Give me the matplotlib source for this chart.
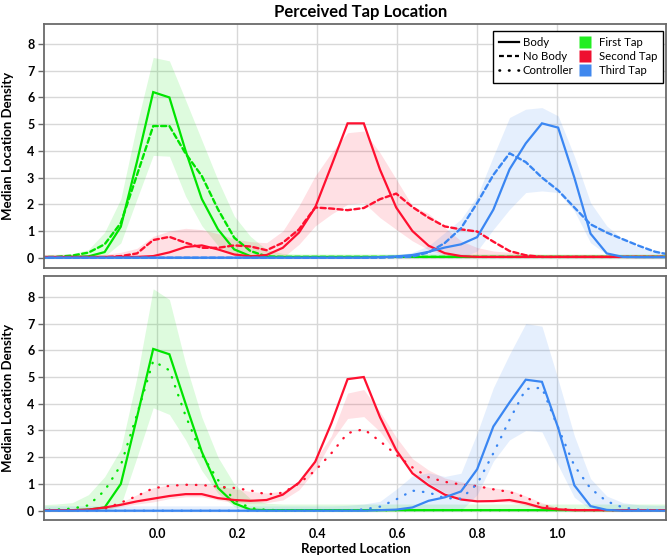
import numpy
import matplotlib
matplotlib.use("Agg")
from matplotlib import pyplot
from matplotlib.lines import Line2D

pyplot.rcParams['font.family'] = ['Lato', 'DejaVu Sans']

# -----------------------------------------------------------------------------
# bin centres (reported location), 40 bins
loc = numpy.round(-0.01 + 0.0405 * numpy.arange(-7, 33), 4)

# top panel: Body (solid) / No Body (dashed)
green_body_top = [0.02, 0.02, 0.03, 0.05, 0.21, 1.16, 3.6, 6.2, 6.0, 4.0, 2.2, 1.06, 0.31, 0.06,
                  0.03, 0.03, 0.03, 0.03, 0.03, 0.03, 0.03, 0.03, 0.03, 0.03, 0.03, 0.03, 0.03,
                  0.03, 0.03, 0.03, 0.03, 0.03, 0.03, 0.03, 0.03, 0.03, 0.03, 0.03, 0.03, 0.03]
green_nobody_top = [0.02, 0.03, 0.08, 0.19, 0.5, 1.3, 3.1, 4.93, 4.93, 3.9, 3.06, 1.81, 0.75, 0.25,
                    0.05, 0.03, 0.03, 0.03, 0.03, 0.03, 0.03, 0.03, 0.03, 0.03, 0.03, 0.03, 0.03,
                    0.03, 0.03, 0.03, 0.03, 0.03, 0.03, 0.03, 0.03, 0.03, 0.03, 0.03, 0.03, 0.03]
green_hi_top = [0.12, 0.13, 0.15, 0.3, 0.95, 2.2, 5.0, 7.5, 7.37, 5.9, 4.4, 2.9, 1.56, 0.8,
                0.3, 0.16, 0.14, 0.14, 0.14, 0.14, 0.14, 0.14, 0.14, 0.14, 0.14, 0.14, 0.14,
                0.14, 0.14, 0.14, 0.14, 0.14, 0.14, 0.14, 0.14, 0.14, 0.14, 0.14, 0.14, 0.14]
green_lo_top = [0, 0, 0, 0, 0.05, 0.55, 2.2, 3.83, 3.8, 2.3, 1.2, 0.45, 0.1, 0,
                0, 0, 0, 0, 0, 0, 0, 0, 0, 0, 0, 0, 0,
                0, 0, 0, 0, 0, 0, 0, 0, 0, 0, 0, 0, 0]

red_body_top = [0.03, 0.03, 0.03, 0.03, 0.03, 0.03, 0.03, 0.06, 0.2, 0.4, 0.46, 0.31, 0.12, 0.05,
                0.1, 0.37, 0.94, 1.88, 3.44, 5.03, 5.03, 3.3, 1.88, 1.0, 0.45, 0.17, 0.06,
                0.03, 0.03, 0.03, 0.03, 0.03, 0.03, 0.03, 0.03, 0.03, 0.03, 0.03, 0.03, 0.03]
red_nobody_top = [0.02, 0.02, 0.02, 0.02, 0.02, 0.06, 0.16, 0.66, 0.78, 0.56, 0.37, 0.37, 0.46, 0.42,
                  0.28, 0.56, 1.06, 1.88, 1.84, 1.78, 1.86, 2.19, 2.4, 1.9, 1.5, 1.17, 1.06,
                  0.98, 0.6, 0.25, 0.09, 0.03, 0.03, 0.03, 0.03, 0.03, 0.03, 0.03, 0.03, 0.03]
red_hi_top = [0.05, 0.06, 0.08, 0.1, 0.12, 0.2, 0.35, 0.8, 1.0, 1.1, 1.05, 0.9, 0.7, 0.6,
              0.56, 1.0, 1.94, 3.06, 3.93, 4.68, 4.74, 3.93, 2.94, 1.94, 1.65, 1.13, 0.63,
              0.38, 0.25, 0.2, 0.15, 0.12, 0.12, 0.12, 0.12, 0.12, 0.12, 0.12, 0.12, 0.12]
red_lo_top = [0, 0, 0, 0, 0, 0, 0, 0, 0, 0, 0, 0, 0, 0,
              0, 0, 0.5, 1.19, 1.63, 2.0, 2.06, 1.5, 1.06, 0.63, 0.3, 0.1, 0,
              0, 0, 0, 0, 0, 0, 0, 0, 0, 0, 0, 0, 0]

blue_body_top = [0, 0, 0, 0, 0, 0, 0, 0, 0, 0, 0, 0, 0, 0,
                 0, 0, 0, 0, 0, 0, 0, 0.02, 0.05, 0.1, 0.22, 0.38, 0.5,
                 0.77, 1.8, 3.31, 4.28, 5.03, 4.87, 3.0, 0.9, 0.16, 0.03, 0.02, 0.02, 0.02]
blue_nobody_top = [0, 0, 0, 0, 0, 0, 0, 0, 0, 0, 0, 0, 0, 0,
                   0, 0, 0, 0, 0, 0, 0, 0, 0.02, 0.04, 0.2, 0.55, 1.1,
                   2.05, 3.1, 3.91, 3.58, 3.0, 2.52, 1.88, 1.25, 0.94, 0.69, 0.44, 0.22, 0.1]
blue_hi_top = [0.02, 0.02, 0.02, 0.02, 0.02, 0.02, 0.02, 0.02, 0.02, 0.02, 0.02, 0.02, 0.02, 0.02,
               0.02, 0.02, 0.02, 0.02, 0.02, 0.02, 0.02, 0.05, 0.08, 0.2, 0.44, 0.94, 1.44,
               2.3, 3.8, 5.25, 5.56, 5.62, 5.31, 3.8, 2.06, 1.19, 0.69, 0.38, 0.25, 0.2]
blue_lo_top = [0, 0, 0, 0, 0, 0, 0, 0, 0, 0, 0, 0, 0, 0,
               0, 0, 0, 0, 0, 0, 0, 0, 0, 0, 0, 0, 0,
               0.25, 1.06, 1.81, 2.44, 2.5, 2.44, 1.75, 0.56, 0.12, 0, 0, 0, 0]

# bottom panel: Body (solid) / Controller (dotted)
green_body_bot = [0.02, 0.02, 0.02, 0.04, 0.12, 1.0, 3.5, 6.05, 5.85, 4.0, 2.2, 0.85, 0.28, 0.04,
                  0.02, 0.02, 0.02, 0.02, 0.02, 0.02, 0.02, 0.02, 0.02, 0.02, 0.02, 0.02, 0.02,
                  0.02, 0.02, 0.02, 0.02, 0.02, 0.02, 0.02, 0.02, 0.02, 0.02, 0.02, 0.02, 0.02]
green_ctrl_bot = [0.02, 0.04, 0.08, 0.2, 0.75, 1.7, 3.6, 5.6, 5.25, 3.55, 2.1, 1.15, 0.4, 0.1,
                  0.03, 0.02, 0.02, 0.02, 0.02, 0.02, 0.02, 0.02, 0.02, 0.02, 0.02, 0.02, 0.02,
                  0.02, 0.02, 0.02, 0.02, 0.02, 0.02, 0.02, 0.02, 0.02, 0.02, 0.02, 0.02, 0.02]
green_hi_bot = [0.22, 0.25, 0.3, 0.6, 1.27, 2.3, 5.0, 8.3, 7.9, 5.5, 3.5, 2.0, 1.0, 0.45,
                0.28, 0.25, 0.25, 0.25, 0.25, 0.25, 0.25, 0.25, 0.25, 0.25, 0.25, 0.25, 0.25,
                0.25, 0.25, 0.25, 0.25, 0.25, 0.25, 0.25, 0.25, 0.25, 0.25, 0.25, 0.25, 0.25]
green_lo_bot = [0, 0, 0, 0, 0, 0.2, 2.0, 3.85, 3.6, 2.65, 1.5, 0.65, 0.15, 0,
                0, 0, 0, 0, 0, 0, 0, 0, 0, 0, 0, 0, 0,
                0, 0, 0, 0, 0, 0, 0, 0, 0, 0, 0, 0, 0]

red_body_bot = [0.02, 0.02, 0.02, 0.04, 0.12, 0.22, 0.35, 0.45, 0.55, 0.62, 0.62, 0.47, 0.4, 0.37,
                0.4, 0.6, 1.05, 1.83, 3.27, 4.92, 5.0, 3.5, 2.27, 1.4, 0.95, 0.6, 0.42,
                0.35, 0.36, 0.4, 0.28, 0.11, 0.05, 0.02, 0.02, 0.02, 0.02, 0.02, 0.02, 0.02]
red_ctrl_bot = [0.02, 0.02, 0.02, 0.03, 0.07, 0.3, 0.55, 0.84, 0.93, 0.97, 0.96, 0.9, 0.85, 0.76,
                0.61, 0.67, 1.02, 1.5, 2.15, 2.9, 3.05, 2.6, 2.1, 1.62, 1.25, 1.08, 0.98,
                0.92, 0.8, 0.7, 0.5, 0.21, 0.07, 0.03, 0.02, 0.02, 0.02, 0.02, 0.02, 0.02]
red_hi_bot = [0.02, 0.03, 0.04, 0.05, 0.12, 0.3, 0.6, 0.86, 0.96, 1.0, 1.0, 0.92, 0.82, 0.72,
              0.66, 0.73, 1.1, 1.9, 2.8, 4.4, 4.53, 3.7, 2.75, 1.95, 1.52, 1.22, 1.08,
              0.95, 0.85, 0.78, 0.55, 0.3, 0.12, 0.05, 0.02, 0.02, 0.02, 0.02, 0.02, 0.02]
red_lo_bot = [0, 0, 0, 0, 0.05, 0.15, 0.25, 0.33, 0.45, 0.52, 0.52, 0.4, 0.3, 0.28,
              0.3, 0.4, 0.78, 1.52, 2.6, 3.45, 3.52, 2.96, 2.15, 1.45, 1.05, 0.68, 0.48,
              0.35, 0.34, 0.32, 0.2, 0.07, 0.02, 0, 0, 0, 0, 0, 0, 0]

blue_body_bot = [0, 0, 0, 0, 0, 0, 0, 0, 0, 0, 0, 0, 0, 0,
                 0, 0, 0, 0, 0, 0, 0, 0.02, 0.04, 0.12, 0.37, 0.5, 0.72,
                 1.55, 3.15, 4.05, 4.9, 4.82, 3.1, 0.95, 0.17, 0.03, 0, 0, 0, 0]
blue_ctrl_bot = [0, 0, 0, 0, 0, 0, 0, 0, 0, 0, 0, 0, 0, 0,
                 0, 0, 0, 0, 0, 0, 0.05, 0.15, 0.42, 0.75, 0.68, 0.47, 0.45,
                 1.0, 2.15, 3.4, 4.55, 4.6, 3.1, 1.68, 0.83, 0.35, 0.12, 0.04, 0.02, 0.02]
blue_hi_bot = [0.18, 0.18, 0.18, 0.18, 0.18, 0.18, 0.18, 0.18, 0.18, 0.18, 0.18, 0.18, 0.18, 0.18,
               0.18, 0.18, 0.18, 0.18, 0.18, 0.2, 0.25, 0.35, 0.8, 1.3, 1.42, 1.28, 1.4,
               2.9, 4.6, 5.85, 7.0, 6.9, 4.9, 2.8, 1.2, 0.55, 0.3, 0.22, 0.2, 0.2]
blue_lo_bot = [0, 0, 0, 0, 0, 0, 0, 0, 0, 0, 0, 0, 0, 0,
               0, 0, 0, 0, 0, 0, 0, 0, 0, 0, 0, 0, 0,
               0.6, 1.85, 2.65, 3.0, 2.95, 1.7, 0.5, 0.05, 0, 0, 0, 0, 0]

tap_names = ['First Tap', 'Second Tap', 'Third Tap']
tap_colors = ['#00e400', '#ff1030', '#3a86f2']
x_ticks = [0.0, 0.2, 0.4, 0.6, 0.8, 1.0]
y_ticks = [0, 1, 2, 3, 4, 5, 6, 7, 8]

dash_style = (0, (2.2, 1.4))
dot_style = (0, (0.2, 3.8))

# -----------------------------------------------------------------------------
def setup(ax, ylim, show_x):
    ax.set_xlim(-0.283, 1.273)
    ax.set_ylim(*ylim)
    ax.set_xticks(x_ticks)
    ax.set_yticks(y_ticks)
    ax.grid(which='major', color='#d8d8d8', linewidth=1.0)
    ax.set_axisbelow(True)
    for s in ax.spines.values():
        s.set_color('#6a6a6a')
        s.set_linewidth(1.3)
    ax.tick_params(axis='y', length=4, width=1.0, color='#6a6a6a', pad=3,
                   labelsize=9)
    ax.tick_params(axis='x', length=0, pad=6, labelsize=9)
    for t in ax.get_yticklabels() + ax.get_xticklabels():
        t.set_fontweight('bold')
    if not show_x:
        ax.set_xticklabels([])
    ax.set_ylabel('Median Location Density', fontsize=9.5, fontweight='bold',
                  labelpad=9)


def draw(ax, bands, lines):
    for (lo, hi), c in zip(bands, tap_colors):
        ax.fill_between(loc, lo, hi, color=c, alpha=0.13, linewidth=0)
    for (a, b), c in zip(lines, tap_colors):
        ax.plot(loc, a, color=c, linewidth=1.6, solid_joinstyle='miter')
        ax.plot(loc, b[0], color=c, linewidth=1.7, linestyle=b[1],
                dash_capstyle='round')


fig = pyplot.figure(figsize=(6.67, 5.58), dpi=100)
ax1 = fig.add_axes([0.066, 0.520, 0.933, 0.437])
ax2 = fig.add_axes([0.066, 0.068, 0.933, 0.437])

setup(ax1, (-0.38, 8.75), False)
setup(ax2, (-0.35, 8.77), True)

draw(ax1,
     [(green_lo_top, green_hi_top), (red_lo_top, red_hi_top), (blue_lo_top, blue_hi_top)],
     [(green_body_top, (green_nobody_top, dash_style)),
      (red_body_top, (red_nobody_top, dash_style)),
      (blue_body_top, (blue_nobody_top, dash_style))])
draw(ax2,
     [(green_lo_bot, green_hi_bot), (red_lo_bot, red_hi_bot), (blue_lo_bot, blue_hi_bot)],
     [(green_body_bot, (green_ctrl_bot, dot_style)),
      (red_body_bot, (red_ctrl_bot, dot_style)),
      (blue_body_bot, (blue_ctrl_bot, dot_style))])

fig.text(0.533, 0.016, 'Reported Location', ha='center', va='center',
         fontsize=9.5, fontweight='bold')

fig.text(0.541, 0.978, 'Perceived Tap Location', ha='center', va='center',
         fontsize=12, fontweight='bold')

# legend: line styles in first column, tap colours in second
handles = [Line2D([], [], color='black', linewidth=1.6),
           Line2D([], [], color='black', linewidth=1.6, linestyle=dash_style),
           Line2D([], [], color='black', linewidth=1.9, linestyle=(0, (0.2, 3.4)),
                  dash_capstyle='round')]
handles += [Line2D([], [], linestyle='none', marker='s', markersize=8.5,
                   markerfacecolor=c, markeredgecolor='none')
            for c in ['#22ee22', '#ee1030', '#4088ee']]
labels = ['Body', 'No Body', 'Controller'] + tap_names
leg = ax1.legend(handles, labels, ncol=2, loc='upper right',
                 bbox_to_anchor=(0.995, 0.972), borderaxespad=0, fontsize=8.2,
                 frameon=True, fancybox=False, edgecolor='black', framealpha=1.0,
                 handlelength=1.75, handleheight=1.0, handletextpad=0.35,
                 columnspacing=0.1, labelspacing=0.28, borderpad=0.55)
leg.get_frame().set_linewidth(1.0)

pyplot.savefig('out.png', dpi=100)
